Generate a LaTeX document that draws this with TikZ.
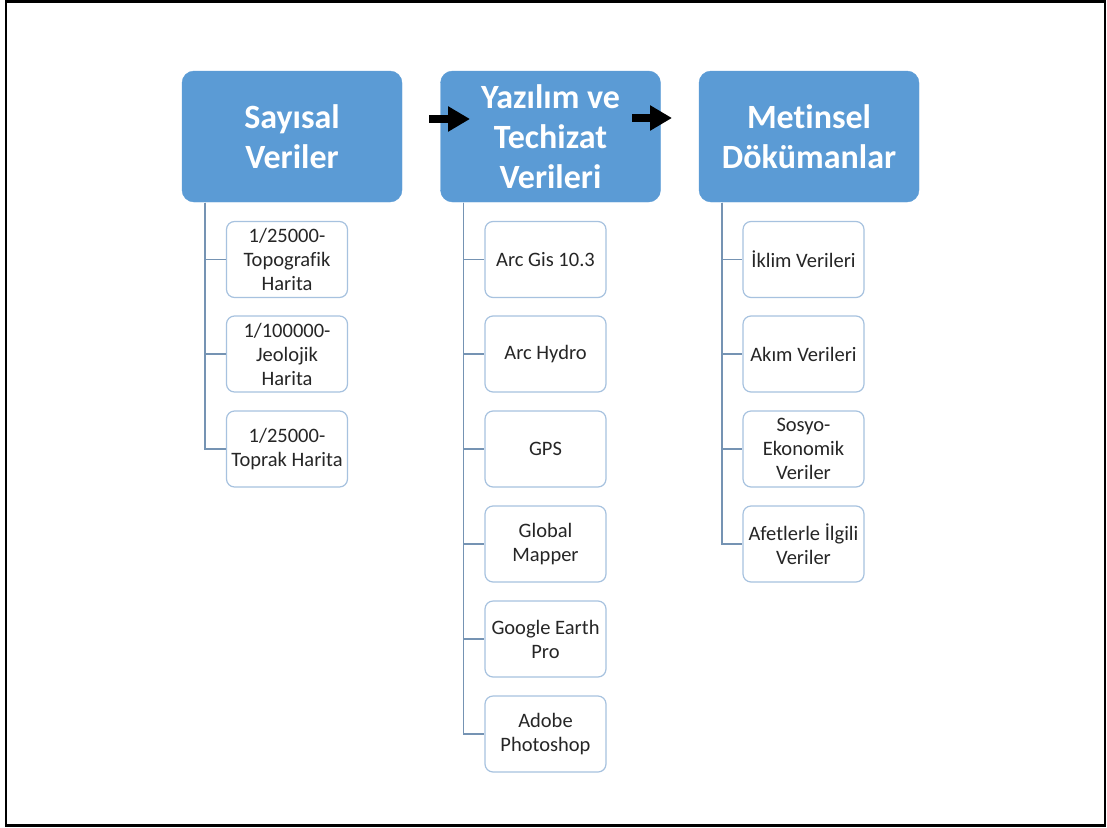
\documentclass[tikz,border=0pt]{standalone}
\usepackage{fontspec}
\setmainfont{Carlito}[Ligatures=NoCommon]
\usetikzlibrary{arrows.meta}

\definecolor{hdblue}{HTML}{5B9BD5}
\definecolor{bxline}{HTML}{A7C2DF}
\definecolor{trline}{HTML}{7593B3}
\definecolor{txgray}{HTML}{262626}

\tikzset{
  head/.style={draw=hdblue, fill=hdblue, rounded corners=12pt, minimum width=220pt,
    minimum height=131pt, text=white, align=center,
    font=\fontsize{34}{40}\selectfont\bfseries},
  leaf/.style={draw=bxline, line width=1.2pt, fill=white, rounded corners=8pt,
    minimum width=121pt, minimum height=76pt, text=txgray, align=center,
    font=\fontsize{20.5}{24}\selectfont, inner sep=2pt},
  tree/.style={draw=trline, line width=1.3pt},
  blockarrow/.style={line width=8.5pt, -{Triangle[length=22pt,width=24pt]}}
}

\begin{document}
\begin{tikzpicture}[x=1pt, y=-1pt]
\useasboundingbox (0,0) rectangle (1107,827);
\draw[line width=2.4pt] (6.2,1.4) rectangle (1104.8,825.6);

% headers
\node[head] (h1) at (292,136.5) {Sayısal\\Veriler};
\node[head] (h2) at (550.5,136.5) {Yazılım ve\\Techizat\\Verileri};
\node[head] (h3) at (809,136.5) {Metinsel\\Dökümanlar};

% block arrows
\coordinate (a1) at (429,119);
\coordinate (a2) at (632,118);
\draw[blockarrow] (a1) -- +(41,0) coordinate (a1e);
\draw[blockarrow] (a2) -- +(40,0) coordinate (a2e);

% column 1
\node[leaf] (c11) at (287,259.5) {1/25000-\\Topografik\\Harita};
\node[leaf] (c12) at (287,354) {1/100000-\\Jeolojik\\Harita};
\node[leaf] (c13) at (287,449) {1/25000-\\Toprak Harita};

% column 2
\node[leaf] (c21) at (545.5,259.5) {Arc Gis 10.3};
\node[leaf] (c22) at (545.5,354) {Arc Hydro};
\node[leaf] (c23) at (545.5,449) {GPS};
\node[leaf] (c24) at (545.5,544) {Global\\Mapper};
\node[leaf] (c25) at (545.5,639) {Google Earth\\Pro};
\node[leaf] (c26) at (545.5,734) {Adobe\\Photoshop};

% column 3
\node[leaf] (c31) at (803.5,259.5) {İklim Verileri};
\node[leaf] (c32) at (803.5,354) {Akım Verileri};
\node[leaf] (c33) at (803.5,449) {Sosyo-\\Ekonomik\\Veriler};
\node[leaf] (c34) at (803.5,544) {Afetlerle İlgili\\Veriler};

% tree lines
\coordinate (t1) at (205,202.5);
\coordinate (t2) at (463.5,202.5);
\coordinate (t3) at (722,202.5);
\foreach \i in {1,2,3}
  \draw[tree] (t1) |- (c1\i.west);
\foreach \i in {1,...,6}
  \draw[tree] (t2) |- (c2\i.west);
\foreach \i in {1,...,4}
  \draw[tree] (t3) |- (c3\i.west);
\end{tikzpicture}
\end{document}
